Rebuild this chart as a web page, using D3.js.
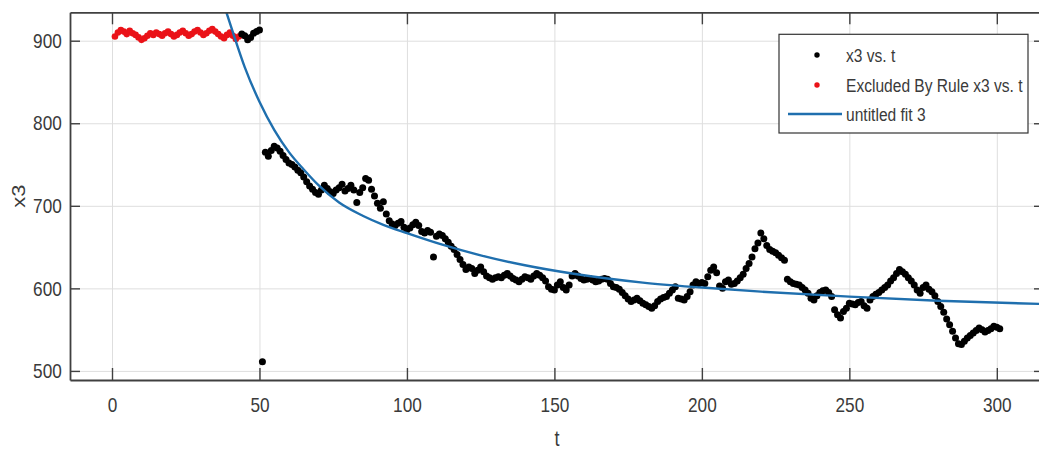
<!DOCTYPE html>
<html>

<head>
  <title>x3 vs. t</title>
  <script type="text/javascript" src="https://cdn.jsdelivr.net/npm/d3@7"></script>
  <style>
    body {
      margin: 0;
      background-color: white;
    }
    svg text {
      font-family: "Liberation Sans", Arial, sans-serif;
      fill: #3a3a3a;
    }
  </style>
</head>

<body>
  <script type="text/javascript">

    // Excluded points (red), t = 1 .. 43
    const excludedStart = 1;
    const excludedX3 = [905, 910, 913, 911, 908, 912, 909, 907, 904, 901,
      903, 906, 909, 907, 910, 908, 906, 909, 911, 908,
      905, 907, 910, 912, 909, 906, 908, 911, 913, 910,
      907, 909, 912, 914, 911, 908, 905, 903, 907, 910,
      906, 902, 905];

    // Kept points (black), t = 44 .. 301
    const keptStart = 44;
    const keptX3 = [908, 906, 901, 904, 909, 911, 913,
      511,
      765, 760, 767, 772, 770, 766, 761, 756, 752, 750,   // 52-61
      747, 743, 740, 735, 729, 724, 720, 716, 714, 719,   // 62-71
      725, 721, 717, 715, 719, 722, 726, 718, 721, 725,   // 72-81
      719, 704, 716, 722, 733, 731, 720, 712, 703, 697,   // 82-91
      705, 690, 682, 678, 676, 679, 681, 674, 671, 673,   // 92-101
      677, 680, 676, 669, 667, 670, 668, 638, 663, 666,   // 102-111
      664, 660, 656, 651, 647, 641, 635, 629, 623, 626,   // 112-121
      624, 618, 622, 626, 620, 615, 613, 611, 613, 614,   // 122-131
      613, 616, 618, 615, 612, 610, 608, 611, 614, 613,   // 132-141
      611, 615, 618, 616, 613, 609, 602, 599, 598, 604,   // 142-151
      608, 601, 598, 604, 615, 618, 615, 612, 610, 611,   // 152-161
      612, 610, 608, 609, 611, 612, 611, 606, 602, 601,   // 162-171
      599, 595, 591, 587, 584, 586, 588, 585, 582, 580,   // 172-181
      578, 576, 579, 584, 587, 589, 590, 594, 598, 602,   // 182-191
      588, 587, 586, 590, 596, 604, 608, 606, 607, 606,   // 192-201
      614, 622, 626, 619, 603, 600, 608, 610, 605, 606,   // 202-211
      609, 613, 617, 624, 630, 638, 648, 655, 667, 660,   // 212-221
      652, 647, 645, 643, 640, 637, 634, 611, 608, 606,   // 222-231
      605, 604, 601, 598, 594, 588, 586, 591, 595, 597,   // 232-241
      598, 595, 590, 574, 568, 564, 572, 576, 582, 581,   // 242-251
      580, 583, 584, 579, 576, 586, 590, 593, 595, 598,   // 252-261
      601, 604, 609, 613, 618, 623, 620, 617, 613, 609,   // 262-271
      604, 598, 594, 601, 604, 599, 596, 591, 584, 578,   // 272-281
      571, 563, 556, 548, 540, 533, 532, 536, 540, 543,   // 282-291
      546, 549, 552, 550, 547, 549, 551, 554, 553, 551];  // 292-301

    // Fit curve
    const fitT = [38, 41, 45, 50, 55, 60, 65, 70, 77, 85, 92, 100, 112, 125, 140, 156, 180, 200, 220, 250, 280, 316];
    const fitX3 = [943, 910, 868, 826, 792, 765, 744, 725, 704, 688, 677, 667, 653, 640, 628, 618, 607, 601, 596, 590, 585, 581];

    // Ticks
    const xTicks = [0, 50, 100, 150, 200, 250, 300];
    const yTicks = [500, 600, 700, 800, 900];

    const legendLabels = ["x3 vs. t", "Excluded By Rule x3 vs. t", "untitled fit 3"];

    const w = 1039;
    const h = 452;
    const plotLeft = 70, plotRight = 1044, plotTop = 12.3, plotBottom = 380;
    const narrow = "scale(0.82,1)"; // no narrow font installed, squeeze the normal one

    const excluded = excludedX3.map(function (v, i) { return { t: excludedStart + i, v: v }; });
    const kept = keptX3.map(function (v, i) { return { t: keptStart + i, v: v }; });
    const fit = fitT.map(function (t, i) { return { t: t, v: fitX3[i] }; });

    const xScale = d3.scaleLinear()
      .domain([-14.24, 316])
      .range([plotLeft, plotRight]);

    const yScale = d3.scaleLinear()
      .domain([489, 934.4])
      .range([plotBottom, plotTop]);

    const svg = d3.select("body")
      .append("svg")
      .attr("width", w)
      .attr("height", h);

    svg.append("defs").append("clipPath")
      .attr("id", "plotclip")
      .append("rect")
      .attr("x", plotLeft)
      .attr("y", plotTop)
      .attr("width", plotRight - plotLeft)
      .attr("height", plotBottom - plotTop);

    // grid
    svg.append("g")
      .attr("transform", "translate(0," + plotBottom + ")")
      .call(d3.axisBottom(xScale).tickValues(xTicks).tickSize(-(plotBottom - plotTop)).tickFormat(""))
      .call(function (g) {
        g.select(".domain").remove();
        g.selectAll("line").attr("stroke", "#dedede").attr("stroke-width", 1);
      });

    svg.append("g")
      .attr("transform", "translate(" + plotLeft + ",0)")
      .call(d3.axisLeft(yScale).tickValues(yTicks).tickSize(-(plotRight - plotLeft)).tickFormat(""))
      .call(function (g) {
        g.select(".domain").remove();
        g.selectAll("line").attr("stroke", "#dedede").attr("stroke-width", 1);
      });

    const plot = svg.append("g").attr("clip-path", "url(#plotclip)");

    plot.selectAll("circle.excluded")
      .data(excluded)
      .enter()
      .append("circle")
      .attr("class", "excluded")
      .attr("cx", function (d) { return xScale(d.t); })
      .attr("cy", function (d) { return yScale(d.v); })
      .attr("r", 3.3)
      .attr("fill", "#ea1218");

    plot.selectAll("circle.kept")
      .data(kept)
      .enter()
      .append("circle")
      .attr("class", "kept")
      .attr("cx", function (d) { return xScale(d.t); })
      .attr("cy", function (d) { return yScale(d.v); })
      .attr("r", 3.5)
      .attr("fill", "#000");

    const line = d3.line()
      .x(function (d) { return xScale(d.t); })
      .y(function (d) { return yScale(d.v); })
      .curve(d3.curveMonotoneX);

    plot.append("path")
      .datum(fit)
      .attr("d", line)
      .attr("fill", "none")
      .attr("stroke", "#1f6fae")
      .attr("stroke-width", 2.4);

    // axes (box with inward ticks)
    function styleAxis(g) {
      g.select(".domain").attr("stroke", "#404040").attr("stroke-width", 1.8);
      g.selectAll(".tick line").attr("stroke", "#404040").attr("stroke-width", 1.4);
      g.selectAll(".tick text")
        .attr("font-size", "21px")
        .attr("fill", "#3a3a3a")
        .attr("transform", narrow);
    }

    svg.append("g")
      .attr("transform", "translate(0," + plotBottom + ")")
      .call(d3.axisBottom(xScale).tickValues(xTicks).tickSizeInner(-12).tickSizeOuter(0).tickPadding(17))
      .call(styleAxis);

    svg.append("g")
      .attr("transform", "translate(0," + plotTop + ")")
      .call(d3.axisTop(xScale).tickValues(xTicks).tickSizeInner(-12).tickSizeOuter(0).tickFormat(""))
      .call(styleAxis);

    svg.append("g")
      .attr("transform", "translate(" + plotLeft + ",0)")
      .call(d3.axisLeft(yScale).tickValues(yTicks).tickSizeInner(-10).tickSizeOuter(0).tickPadding(10))
      .call(styleAxis);

    svg.append("g")
      .attr("transform", "translate(" + plotRight + ",0)")
      .call(d3.axisRight(yScale).tickValues(yTicks).tickSizeInner(-10).tickSizeOuter(0).tickFormat(""))
      .call(styleAxis);

    // axis labels
    svg.append("text")
      .attr("transform", "translate(" + ((plotLeft + plotRight) / 2) + ",446) " + narrow)
      .attr("text-anchor", "middle")
      .attr("font-size", "22px")
      .text("t");

    svg.append("text")
      .attr("transform", "translate(25," + ((plotTop + plotBottom) / 2) + ") rotate(-90) scale(1,0.82)")
      .attr("text-anchor", "middle")
      .attr("font-size", "22px")
      .text("x3");

    // legend
    const legend = svg.append("g");
    legend.append("rect")
      .attr("x", 779)
      .attr("y", 34.3)
      .attr("width", 249)
      .attr("height", 98.7)
      .attr("fill", "white")
      .attr("stroke", "#333")
      .attr("stroke-width", 1.2);

    const rowY = [55, 85, 114];
    legend.append("circle").attr("cx", 817).attr("cy", rowY[0]).attr("r", 2.7).attr("fill", "#000");
    legend.append("circle").attr("cx", 817).attr("cy", rowY[1]).attr("r", 2.7).attr("fill", "#ea1218");
    legend.append("line")
      .attr("x1", 788).attr("x2", 842)
      .attr("y1", rowY[2]).attr("y2", rowY[2])
      .attr("stroke", "#1f6fae")
      .attr("stroke-width", 2.4);

    legend.selectAll("text.leg")
      .data(legendLabels)
      .enter()
      .append("text")
      .attr("class", "leg")
      .attr("transform", function (d, i) { return "translate(846," + (rowY[i] + 6.8) + ") " + narrow; })
      .attr("font-size", "19px")
      .attr("fill", "#222")
      .text(function (d) { return d; });

  </script>
</body>

</html>
